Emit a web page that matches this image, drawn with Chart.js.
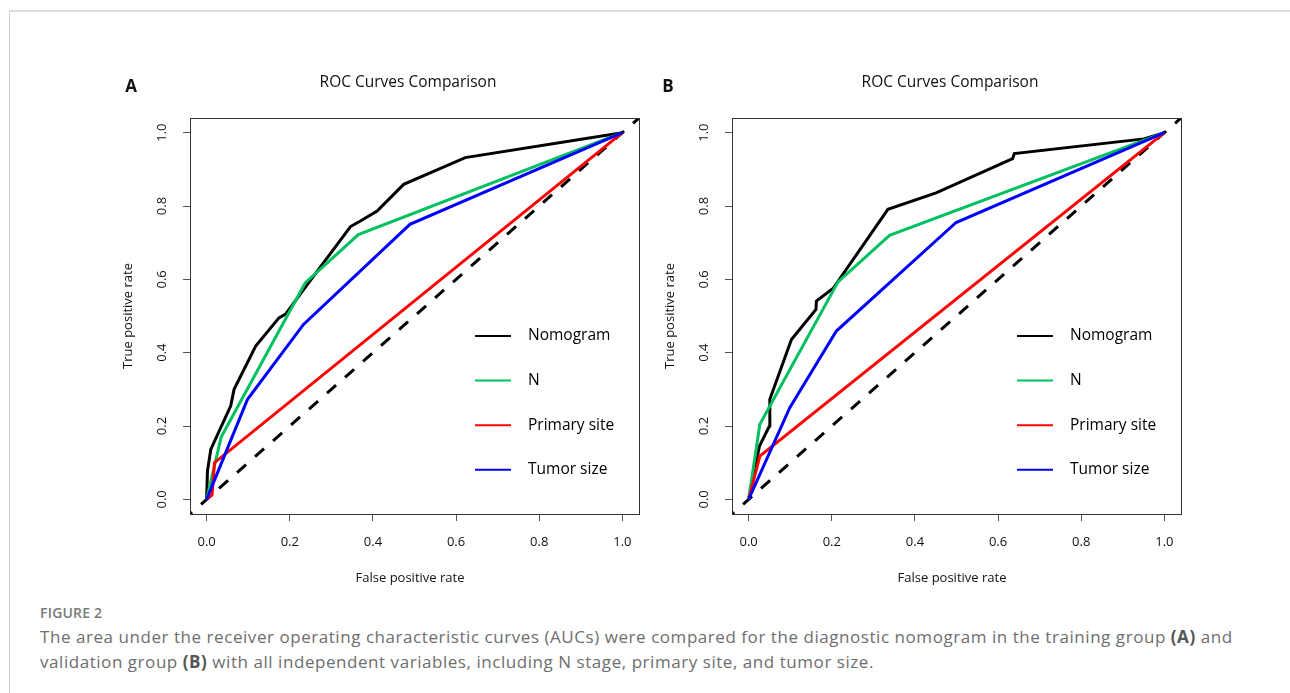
<!DOCTYPE html>
<html>
<head>
<meta charset="utf-8">
<script src="https://cdn.jsdelivr.net/npm/chart.js@4.4.1/dist/chart.umd.min.js"></script>
<style>
    body { margin: 0; background: #fff; font-family: "Open Sans", sans-serif; }
    .card {
        position: absolute; left: 9px; top: 10px; width: 1300px; height: 700px;
        border-top: 2px solid #dcdcdc; border-left: 1px solid #d0d0d0;
    }
    .panel { position: absolute; top: 50px; width: 560px; height: 550px; }
    #panel-a { left: 100px; }
    #panel-b { left: 642px; }
    .caption { position: absolute; left: 40px; top: 602px; color: #6e6e6e; }
    .caption .fig { font-size: 14px; font-weight: 600; color: #7a7a7a; letter-spacing: 0.2px; line-height: 22px; }
    .caption p { margin: 0; font-size: 17px; letter-spacing: 0.55px; line-height: 25px; }
    .caption b { color: #555; }
</style>
</head>
<body>
<div class="card"></div>
<div class="panel" id="panel-a"><canvas id="chart-a"></canvas></div>
<div class="panel" id="panel-b"><canvas id="chart-b"></canvas></div>
<div class="caption">
    <div class="fig">FIGURE 2</div>
    <p>The area under the receiver operating characteristic curves (AUCs) were compared for the diagnostic nomogram in the training group <b>(A)</b> and<br>validation group <b>(B)</b> with all independent variables, including N stage, primary site, and tumor size.</p>
</div>

<script>
// axis ticks
const xTicks = [0, 0.2, 0.4, 0.6, 0.8, 1.0];
const yTicks = [0, 0.2, 0.4, 0.6, 0.8, 1.0];
const models = ['Nomogram', 'N', 'Primary site', 'Tumor size'];

// reference line y = x
const diagX = [-0.1, 1.1];
const diagY = [-0.1, 1.1];

// training group (A)
const trainNomogramFpr = [0, 0.002, 0.010, 0.058, 0.066, 0.118, 0.174, 0.190, 0.234, 0.346, 0.370, 0.410, 0.474, 0.622, 1];
const trainNomogramTpr = [0, 0.077, 0.136, 0.255, 0.300, 0.418, 0.495, 0.505, 0.573, 0.744, 0.759, 0.786, 0.859, 0.932, 1];
const trainNFpr = [0, 0.035, 0.237, 0.365, 1];
const trainNTpr = [0, 0.170, 0.590, 0.722, 1];
const trainSiteFpr = [0, 0.013, 0.019, 1];
const trainSiteTpr = [0, 0.012, 0.100, 1];
const trainSizeFpr = [0, 0.098, 0.233, 0.489, 1];
const trainSizeTpr = [0, 0.272, 0.477, 0.750, 1];

// validation group (B)
const validNomogramFpr = [0, 0.026, 0.050, 0.051, 0.103, 0.162, 0.163, 0.203, 0.335, 0.451, 0.635, 0.639, 0.951, 1];
const validNomogramTpr = [0, 0.145, 0.200, 0.273, 0.436, 0.518, 0.541, 0.575, 0.791, 0.836, 0.929, 0.943, 0.983, 1];
const validNFpr = [0, 0.027, 0.215, 0.339, 1];
const validNTpr = [0, 0.205, 0.593, 0.720, 1];
const validSiteFpr = [0, 0.027, 1];
const validSiteTpr = [0, 0.118, 1];
const validSizeFpr = [0, 0.099, 0.211, 0.499, 1];
const validSizeTpr = [0, 0.250, 0.459, 0.755, 1];

const colors = ['#000000', '#00C060', '#FF0000', '#0000FF'];
const FONT = '"Open Sans", sans-serif';

const toPoints = (xs, ys) => xs.map((x, i) => ({ x: x, y: ys[i] }));

// box, rotated y labels, titles and legend drawn on top of the chart
const decorPlugin = {
    id: 'decor',
    afterDraw(chart, args, opts) {
        const ctx = chart.ctx;
        const area = chart.chartArea;
        const yScale = chart.scales.y;
        ctx.save();

        ctx.strokeStyle = '#333';
        ctx.lineWidth = 1;
        ctx.strokeRect(Math.round(area.left) + 0.5, Math.round(area.top) + 0.5,
            Math.round(area.width), Math.round(area.height));

        ctx.fillStyle = '#111';
        ctx.font = '13px ' + FONT;
        ctx.textAlign = 'center';
        ctx.textBaseline = 'middle';
        yTicks.forEach(v => {
            ctx.save();
            ctx.translate(area.left - 28, yScale.getPixelForValue(v));
            ctx.rotate(-Math.PI / 2);
            ctx.fillText(v.toFixed(1), 0, 0);
            ctx.restore();
        });

        ctx.save();
        ctx.translate(area.left - 62, (area.top + area.bottom) / 2);
        ctx.rotate(-Math.PI / 2);
        ctx.fillText('True positive rate', 0, 0);
        ctx.restore();
        ctx.fillText('False positive rate', area.left + 220, area.bottom + 64);

        ctx.font = '15.5px ' + FONT;
        ctx.fillText('ROC Curves Comparison', area.left + 218, area.top - 35);

        ctx.font = 'bold 17px ' + FONT;
        ctx.fillText(opts.letter, area.left + opts.letterDx, area.top - 31);

        // legend
        ctx.font = '15.5px ' + FONT;
        ctx.textAlign = 'left';
        models.forEach((m, i) => {
            const y = area.top + 218 + i * 44.6;
            ctx.strokeStyle = colors[i];
            ctx.lineWidth = 2;
            ctx.beginPath();
            ctx.moveTo(area.left + 285, y);
            ctx.lineTo(area.left + 321, y);
            ctx.stroke();
            ctx.fillStyle = '#000';
            ctx.fillText(m, area.left + 338, y);
        });
        ctx.restore();
    }
};

function makeChart(id, series, letter, letterDx) {
    const datasets = series.map((s, i) => ({
        label: models[i],
        data: toPoints(s[0], s[1]),
        borderColor: colors[i],
        borderWidth: 3,
        order: 4 - i
    }));
    datasets.push({
        label: 'ref',
        data: toPoints(diagX, diagY),
        borderColor: '#000',
        borderWidth: 3,
        borderDash: [12, 12],
        order: 10
    });

    const axis = (ticks) => ({
        type: 'linear',
        min: -0.04,
        max: 1.04,
        afterBuildTicks: s => { s.ticks = ticks.map(v => ({ value: v })); },
        border: { display: false },
        grid: { drawOnChartArea: false, drawTicks: true, tickLength: 7, color: '#555', lineWidth: 1 }
    });

    const xAxis = axis(xTicks);
    xAxis.ticks = { padding: 13, color: '#111', font: { family: FONT, size: 13 }, maxRotation: 0, callback: v => v.toFixed(1) };
    xAxis.afterFit = s => { s.height = 86; };
    const yAxis = axis(yTicks);
    yAxis.ticks = { display: false };
    yAxis.afterFit = s => { s.width = 90; };

    new Chart(document.getElementById(id), {
        type: 'line',
        data: { datasets: datasets },
        options: {
            responsive: true,
            maintainAspectRatio: false,
            animation: false,
            layout: { padding: { top: 68, right: 21, left: 0, bottom: 0 } },
            elements: { point: { radius: 0 }, line: { tension: 0 } },
            plugins: {
                legend: { display: false },
                tooltip: { enabled: false },
                decor: { letter: letter, letterDx: letterDx }
            },
            scales: { x: xAxis, y: yAxis }
        },
        plugins: [decorPlugin]
    });
}

makeChart('chart-a', [
    [trainNomogramFpr, trainNomogramTpr],
    [trainNFpr, trainNTpr],
    [trainSiteFpr, trainSiteTpr],
    [trainSizeFpr, trainSizeTpr]
], 'A', -59);

makeChart('chart-b', [
    [validNomogramFpr, validNomogramTpr],
    [validNFpr, validNTpr],
    [validSiteFpr, validSiteTpr],
    [validSizeFpr, validSizeTpr]
], 'B', -64);
</script>
</body>
</html>
